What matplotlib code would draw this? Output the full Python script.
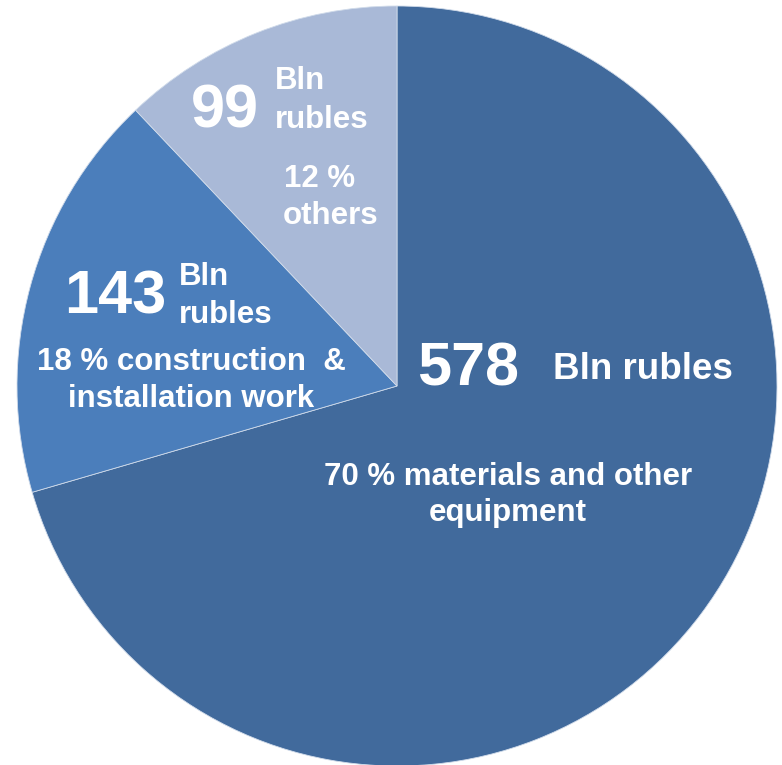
import matplotlib.pyplot as plt

# Data
labels = ["materials and other equipment", "construction & installation work", "others"]
values = [578, 143, 99]
percents = [70, 18, 12]
colors = ["#416A9C", "#4B7EBB", "#A9B9D7"]

W, H = 782, 765
plt.rcParams['font.family'] = ['Liberation Sans', 'DejaVu Sans']

fig = plt.figure(figsize=(W / 100, H / 100), dpi=100)
ax = fig.add_axes([0, 0, 1, 1])

ax.pie(values, colors=colors, startangle=90, counterclock=False,
       center=(397, H - 386), radius=380, frame=True,
       wedgeprops=dict(edgecolor='#d0dbea', linewidth=0.6))
ax.set_xlim(0, W)
ax.set_ylim(0, H)
ax.axis('off')


# place text in pixel coords (y measured from top)
def txt(x, y, s, size, ha='left'):
    ax.text(x, H - y, s, fontsize=size, fontweight='bold', color='white',
            ha=ha, va='baseline')


big = 44
small = 22.5

# others slice
txt(191, 127, str(values[2]), big)
txt(275, 89, "Bln", small)
txt(275, 128, "rubles", small)
txt(320, 187, f"{percents[2]} %", small, ha='center')
txt(331, 224, "others", small, ha='center')

# construction slice
txt(64, 313, str(values[1]), big)
txt(179, 285, "Bln", small)
txt(179, 323, "rubles", small)
txt(191, 370, f"{percents[1]} % construction  &", small, ha='center')
txt(191, 407, "installation work", small, ha='center')

# materials slice
txt(417, 385, str(values[0]), big)
txt(553, 379, "Bln rubles", 26.5)
txt(508, 485, f"{percents[0]} % materials and other", small, ha='center')
txt(508, 521, "equipment", small, ha='center')

fig.savefig("out.png", dpi=100)
